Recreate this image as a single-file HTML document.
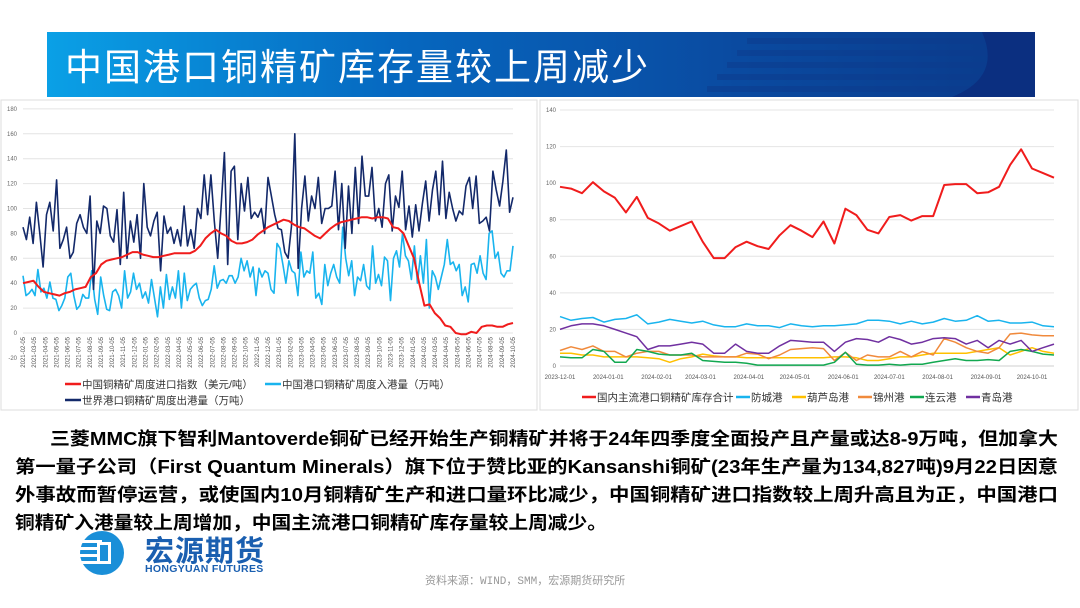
<!DOCTYPE html>
<html><head><meta charset="utf-8"><style>
html,body{margin:0;padding:0;background:#fff;}
body{width:1080px;height:608px;position:relative;overflow:hidden;font-family:"Liberation Sans","Noto Sans CJK SC",sans-serif;}
.abs{position:absolute;}
</style></head><body>
<div class="abs" style="left:47px;top:32px;width:988px;height:65px;overflow:hidden;background:linear-gradient(90deg,#0aa0e6 0%,#0668c0 35%,#0a4aa0 70%,#0a3a8a 100%);">
 <svg width="988" height="65" style="position:absolute;left:0;top:0">
  <g fill="#0d3c8e" opacity="0.55">
   <rect x="700" y="6" width="280" height="6"/><rect x="690" y="18" width="290" height="6"/>
   <rect x="680" y="30" width="300" height="6"/><rect x="670" y="42" width="310" height="6"/><rect x="660" y="54" width="320" height="6"/>
  </g>
  <path d="M935 0 L988 0 L988 65 L905 65 Q955 45 935 0Z" fill="#0b2f80"/>
 </svg>
 <div class="abs" style="left:18px;top:10px;color:#fff;font-size:37px;font-family:'Noto Sans CJK SC',sans-serif;letter-spacing:2px;line-height:44px;">中国港口铜精矿库存量较上周减少</div>
</div>

<svg class="abs" style="left:0;top:0" width="1080" height="608" id="charts">
 <rect x="1" y="100" width="536" height="310" fill="#fff" stroke="#ddd"/>
 <rect x="540" y="100" width="538" height="310" fill="#fff" stroke="#ddd"/>
 <g id="left"></g><g id="right"></g>
</svg>

<svg class="abs" style="left:0;top:0" width="1080" height="608">
 <g font-family="'Liberation Sans','Noto Sans CJK SC',sans-serif" font-size="18" font-weight="bold" fill="#000">
  <text x="50" y="445" textLength="1008" lengthAdjust="spacingAndGlyphs">三菱MMC旗下智利Mantoverde铜矿已经开始生产铜精矿并将于24年四季度全面投产且产量或达8-9万吨，但加拿大</text>
  <text x="15" y="473" textLength="1043" lengthAdjust="spacingAndGlyphs">第一量子公司（First Quantum Minerals）旗下位于赞比亚的Kansanshi铜矿(23年生产量为134,827吨)9月22日因意</text>
  <text x="15" y="501" textLength="1043" lengthAdjust="spacingAndGlyphs">外事故而暂停运营，或使国内10月铜精矿生产和进口量环比减少，中国铜精矿进口指数较上周升高且为正，中国港口</text>
  <text x="15" y="529" textLength="592" lengthAdjust="spacingAndGlyphs">铜精矿入港量较上周增加，中国主流港口铜精矿库存量较上周减少。</text>
 </g>
</svg>

<div class="abs" style="left:75px;top:530px;width:230px;height:46px;">
 <svg width="60" height="46" style="position:absolute;left:0;top:0">
  <circle cx="27" cy="23" r="22" fill="#1a8fd8"/>
  <g fill="#fff"><rect x="5" y="10" width="22" height="3"/><rect x="3" y="17" width="24" height="3"/><rect x="3" y="24" width="24" height="3"/><rect x="5" y="31" width="22" height="3"/></g>
  <rect x="22" y="12" width="14" height="22" fill="#fff"/><rect x="25" y="15" width="8" height="16" fill="#1a8fd8"/>
 </svg>
 <div class="abs" style="left:70px;top:-2px;font-size:29px;font-weight:bold;color:#1a5fb0;font-family:'Noto Sans CJK SC',sans-serif;letter-spacing:1px;">宏源期货</div>
 <div class="abs" style="left:70px;top:33px;font-size:10.5px;font-weight:bold;color:#1a5fb0;letter-spacing:0.3px;">HONGYUAN FUTURES</div>
</div>
<div class="abs" style="left:425px;top:572px;font-size:11px;color:#999;font-family:'Liberation Mono','Noto Sans CJK SC',monospace;">资料来源：WIND，SMM，宏源期货研究所</div>

<script>
// ---------- Left chart data ----------
const leftTicks = [-20,0,20,40,60,80,100,120,140,160,180];
const leftDates = ["2021-02-05","2021-03-05","2021-04-05","2021-05-05","2021-06-05","2021-07-05","2021-08-05","2021-09-05","2021-10-05","2021-11-05","2021-12-05","2022-01-05","2022-02-05","2022-03-05","2022-04-05","2022-05-05","2022-06-05","2022-07-05","2022-08-05","2022-09-05","2022-10-05","2022-11-05","2022-12-05","2023-01-05","2023-02-05","2023-03-05","2023-04-05","2023-05-05","2023-06-05","2023-07-05","2023-08-05","2023-09-05","2023-10-05","2023-11-05","2023-12-05","2024-01-05","2024-02-05","2024-03-05","2024-04-05","2024-05-05","2024-06-05","2024-07-05","2024-08-05","2024-09-05","2024-10-05"];
const worldOut = [85,75,93,72,105,80,53,95,105,82,123,68,75,85,60,65,88,95,85,80,110,35,90,80,102,100,78,73,99,55,113,60,90,73,95,60,120,85,78,90,97,50,94,80,85,72,83,70,102,70,83,68,100,92,127,95,127,90,60,100,145,55,130,134,75,120,98,125,92,97,93,100,80,125,110,95,84,83,65,60,86,160,52,100,126,90,110,100,125,88,100,100,102,130,83,120,68,118,80,133,88,142,110,110,133,90,100,85,120,127,82,110,101,130,83,102,77,103,82,104,122,90,115,130,95,138,92,113,100,90,98,95,118,125,100,126,88,90,93,82,130,115,102,122,147,97,109];
const chinaIn = [46,30,32,35,30,51,33,36,28,41,28,27,18,22,28,45,48,30,19,22,31,28,28,50,27,15,45,30,19,18,33,35,30,20,50,28,33,48,35,40,28,33,24,43,28,13,37,20,47,27,37,28,50,20,48,26,35,38,40,28,22,26,27,35,54,36,42,43,40,46,46,40,45,60,50,58,45,53,30,52,45,50,48,35,32,72,68,55,40,58,50,48,30,65,45,50,48,65,28,32,23,55,38,48,55,45,40,85,60,46,58,30,45,42,55,38,35,70,40,47,38,61,58,26,60,66,53,80,62,58,43,70,40,62,40,75,20,50,45,35,45,55,75,55,57,50,55,30,37,25,55,56,48,62,48,43,80,82,60,65,48,45,50,50,70];
const importIdx = [40,41,42,37,33,32,31,30,32,33,35,36,37,45,48,55,58,59,60,61,63,65,65,63,62,61,61,62,63,64,64,64,64,66,70,76,80,83,80,78,74,72,72,73,75,79,82,85,87,89,91,90,87,85,84,81,78,76,80,84,87,89,90,91,92,93,93,92,93,93,92,85,84,80,70,60,40,22,23,16,12,6,5,0,-1,-1,1,0,5,6,6,5,5,7,8];

// ---------- Right chart data ----------
const rightTicks = [0,20,40,60,80,100,120,140];
const rightDateLabels = ["2023-12-01","2024-01-01","2024-02-01","2024-03-01","2024-04-01","2024-05-01","2024-06-01","2024-07-01","2024-08-01","2024-09-01","2024-10-01"];
const rightDateWeeks = [0,4.4,8.8,12.8,17.2,21.4,25.8,30,34.4,38.8,43];
const totalStock = [98,97,94.5,100.5,95.5,92,84,92.5,81,78,74,76.5,79,68,59,59,65,68,65.5,64,71.5,77,74,70.5,79,67,86,82.5,74.5,72.5,81.5,82.5,79.5,82,82,99,99.5,99.5,94.5,95,98,110,118.5,108,105.5,103];
const fangcheng = [27,25,26,26.5,24,25.5,26,28,23,24,25.5,24.5,23.5,24.5,22.5,21.5,21.5,23,22,22,21,23,22,21.5,22,22,22.5,23,25,25,24.5,23,24.5,23,24,26,24.5,25,27.5,24.5,25,23.5,23.5,24,22,21.5];
const huludao = [7,7,6,6,5,5,5,5,4.5,4,2,4,5,6.5,5.5,5,5,4.5,4.5,4.5,4.5,4.5,4.5,4.5,4.5,5,5,4.5,3,3,4,5,5,6,7,7,7,7,8,9,10,6,8,10,8,7];
const jinzhou = [8.5,10.5,9,11,8,8,5,7,8,8,6,6,6,5,5,5,5,7,6.5,4,6,9,9.5,10,9.5,3,7.5,3,6,5,5,8,5,8,6,15,13,10,8,7,10,17.5,18,17,16.5,16.5];
const lianyun = [5,4.5,4.5,9,8,2,2,9,8,6.5,6,6,7,3,2.5,2,2,1.5,0.5,0.5,0.5,0.5,0.5,0.5,0.5,2,7.5,1,0.5,0.5,1,0.5,1,1,2,3,4,3,3,3.5,3,8,9,8,6.5,6];
const qingdao = [20,22,23,23,22,20,18,16,9,11,11,12,13,12,7,7,12,8,7,7,11,14,13.5,13,13,8,13,15,14.5,13,16,14.5,12,13,15,15.5,15,12,14,10,14,12,14,8,10,12];

const NS='http://www.w3.org/2000/svg';
function mk(parent,tag,attrs,text){const e=document.createElementNS(NS,tag);for(const k in attrs)e.setAttribute(k,attrs[k]);if(text!==undefined)e.textContent=text;parent.appendChild(e);return e;}

// Left axes
const L={x0:23,x1:513,y0:333,per:24.9/20};
const ly=v=>L.y0-v*L.per;
const lx=(i,n)=>L.x0+(L.x1-L.x0)*i/(n-1);
const lg=document.getElementById('left');
leftTicks.forEach(t=>{
  if(t>-20){const g=mk(lg,'line',{x1:L.x0,x2:L.x1,y1:ly(t),y2:ly(t),stroke:'#e4e4e4','stroke-width':1});
  
  }
  const tx=mk(lg,'text',{x:L.x0-6,y:ly(t)+2,'font-size':6,fill:'#666','text-anchor':'end'},t);
  
  
});
leftDates.forEach((d,i)=>{
  const x=lx(i,leftDates.length);
  const tx=mk(lg,'text',{x:x+2,y:337,'font-size':6,fill:'#555','text-anchor':'end',transform:`rotate(-90 ${x+2} 337)`},d);
  
  
});
function lline(arr,color,name,w){
  const pts=arr.map((v,i)=>lx(i,arr.length).toFixed(1)+','+ly(v).toFixed(1)).join(' ');
  const p=mk(lg,'polyline',{points:pts,fill:'none',stroke:color,'stroke-width':w,'stroke-linejoin':'round'});
  
  
}
lline(chinaIn,'#19b4ee','series-china-port-inflow',1.6);
lline(worldOut,'#13296a','series-world-port-outflow',1.6);
lline(importIdx,'#f01c1c','series-china-import-index',2);
const legL=[[65,384,'#f01c1c','中国铜精矿周度进口指数（美元/吨）'],[265,384,'#19b4ee','中国港口铜精矿周度入港量（万吨）'],[65,400,'#13296a','世界港口铜精矿周度出港量（万吨）']];
legL.forEach(l=>{
  const g=mk(lg,'g',{});
  
  
  mk(g,'line',{x1:l[0],x2:l[0]+16,y1:l[1],y2:l[1],stroke:l[2],'stroke-width':2.5});
  mk(g,'text',{x:l[0]+17,y:l[1]+4,'font-size':10.5,fill:'#333'},l[3]);
});

// Right axes
const R={x0:560,x1:1054,y0:366,per:36.57/20};
const ry=v=>R.y0-v*R.per;
const rx=i=>R.x0+(R.x1-R.x0)*i/(totalStock.length-1);
const rg=document.getElementById('right');
rightTicks.forEach(t=>{
  const g=mk(rg,'line',{x1:R.x0,x2:R.x1,y1:ry(t),y2:ry(t),stroke:t===0?'#cfcfcf':'#e4e4e4','stroke-width':1});
  
  
  const tx=mk(rg,'text',{x:R.x0-4,y:ry(t)+2,'font-size':6,fill:'#666','text-anchor':'end'},t);
  
  
});
rightDateLabels.forEach((d,i)=>{
  const x=rx(rightDateWeeks[i]);
  const tx=mk(rg,'text',{x:x,y:379,'font-size':6,fill:'#555','text-anchor':'middle'},d);
  
  
});
function rline(arr,color,name,w){
  const pts=arr.map((v,i)=>rx(i).toFixed(1)+','+ry(v).toFixed(1)).join(' ');
  const p=mk(rg,'polyline',{points:pts,fill:'none',stroke:color,'stroke-width':w,'stroke-linejoin':'round'});
  
  
}
rline(fangcheng,'#19b4ee','series-fangcheng',1.5);
rline(huludao,'#ffc000','series-huludao',1.5);
rline(jinzhou,'#f08a3c','series-jinzhou',1.5);
rline(lianyun,'#12a850','series-lianyun',1.5);
rline(qingdao,'#7030a0','series-qingdao',1.5);
rline(totalStock,'#f01c1c','series-total-stock',2);
const legR=[[596,'#f01c1c','国内主流港口铜精矿库存合计'],[750,'#19b4ee','防城港'],[806,'#ffc000','葫芦岛港'],[872,'#f08a3c','锦州港'],[924,'#12a850','连云港'],[980,'#7030a0','青岛港']];
legR.forEach(l=>{
  const g=mk(rg,'g',{});
  
  
  mk(g,'line',{x1:l[0]-14,x2:l[0],y1:397,y2:397,stroke:l[1],'stroke-width':2.5});
  mk(g,'text',{x:l[0]+1,y:401,'font-size':10.5,fill:'#333'},l[2]);
});
</script>
</body></html>
